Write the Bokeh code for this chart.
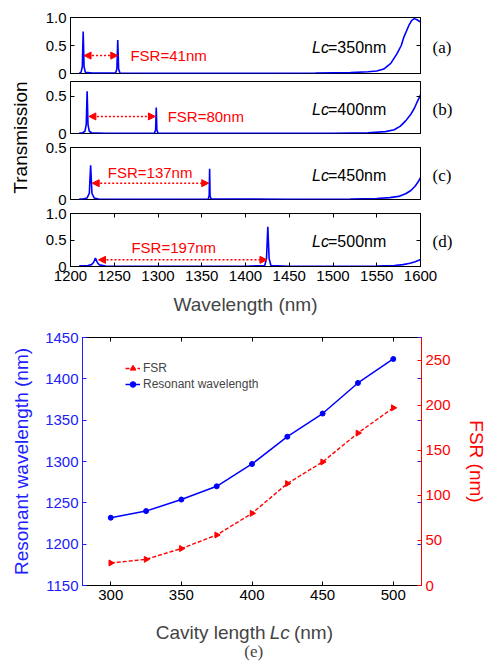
import numpy as np
from bokeh.plotting import figure
from bokeh.layouts import column, row
from bokeh.models import Range1d, LinearAxis, FixedTicker, Label, Arrow, NormalHead, Legend, LegendItem
from bokeh.embed import file_html
from bokeh.resources import INLINE

FONT = "Liberation Sans"
SERIF = "Liberation Serif"
BLUE = "#0000ff"
AXBLUE = "#2020ff"
RED = "#ff0000"

# ---------------- panels (a)-(d): transmission spectra ----------------
wl_a = [1210, 1212, 1213.5, 1214.5, 1215.5, 1217, 1225, 1251.5, 1253, 1254, 1255, 1256.5, 1300, 1400,
        1480, 1520, 1540, 1550, 1558, 1566, 1573, 1578, 1581, 1584, 1587, 1590, 1593, 1596, 1600]
t_a = [0.005, 0.02, 0.12, 0.75, 0.12, 0.02, 0.006, 0.01, 0.08, 0.6, 0.08, 0.01, 0.005, 0.005,
       0.008, 0.015, 0.03, 0.045, 0.08, 0.18, 0.35, 0.5, 0.65, 0.76, 0.87, 0.95, 0.98, 0.96, 0.92]

wl_b = [1210, 1214, 1216.5, 1218, 1219, 1220, 1221.5, 1224, 1240, 1296, 1297.3, 1298, 1298.7, 1300,
        1400, 1500, 1540, 1560, 1570, 1577, 1583, 1589, 1593, 1596, 1600]
t_b = [0.005, 0.01, 0.03, 0.12, 0.57, 0.12, 0.03, 0.01, 0.004, 0.005, 0.05, 0.35, 0.05, 0.005,
       0.003, 0.004, 0.01, 0.025, 0.05, 0.1, 0.17, 0.26, 0.34, 0.42, 0.52]

wl_c = [1210, 1215, 1219, 1221.5, 1223, 1224.5, 1227, 1232, 1300, 1357.5, 1358.5, 1359, 1359.5, 1360.5,
        1450, 1520, 1550, 1565, 1575, 1583, 1589, 1594, 1597, 1600]
t_c = [0.004, 0.006, 0.015, 0.06, 0.33, 0.06, 0.015, 0.005, 0.003, 0.005, 0.04, 0.295, 0.04, 0.005,
       0.003, 0.005, 0.01, 0.018, 0.03, 0.055, 0.087, 0.13, 0.165, 0.21]

wl_d = [1210, 1220, 1224, 1226.5, 1228.5, 1230.5, 1233, 1240, 1300, 1400, 1422, 1424, 1425.5, 1427,
        1429, 1450, 1520, 1550, 1570, 1580, 1588, 1594, 1600]
t_d = [0.015, 0.02, 0.035, 0.08, 0.16, 0.08, 0.03, 0.01, 0.005, 0.006, 0.02, 0.15, 0.75, 0.15,
       0.02, 0.006, 0.006, 0.01, 0.02, 0.035, 0.06, 0.09, 0.13]

panel_wl = [wl_a, wl_b, wl_c, wl_d]
panel_t = [t_a, t_b, t_c, t_d]
panel_ids = ["(a)", "(b)", "(c)", "(d)"]
lc_text = ["=350nm", "=400nm", "=450nm", "=500nm"]
lc_y = [0.47, 0.323, 0.23, 0.47]
y_max = [1.0, 0.7, 0.5, 1.0]
y_ticks = [[0, 0.5, 1.0], [0, 0.5], [0, 0.5], [0, 0.5, 1.0]]
wl_ticks = [1200, 1250, 1300, 1350, 1400, 1450, 1500, 1550, 1600]

fsr_labels = ["FSR=41nm", "FSR=80nm", "FSR=137nm", "FSR=197nm"]
arrow_start = [1215.5, 1221, 1224.8, 1232]
arrow_end = [1254, 1297, 1358, 1424.5]
arrow_y = [0.32, 0.23, 0.157, 0.126]
fsr_text_x = [1268.5, 1311, 1291, 1318]
fsr_text_y = [0.32, 0.23, 0.262, 0.364]
fsr_text_align = ["left", "left", "center", "center"]

# ---------------- panel (e) ----------------
cavity_length = [300, 325, 350, 375, 400, 425, 450, 475, 500]
resonant_wl = [1232, 1240, 1254, 1270, 1297, 1330, 1358, 1395, 1424]
fsr_nm = [25, 29, 41, 56, 80, 113, 137, 169, 197]
lc_ticks = [300, 350, 400, 450, 500]
res_ticks = [1150, 1200, 1250, 1300, 1350, 1400, 1450]
fsr_ticks = [0, 50, 100, 150, 200, 250]


def blank_axis(ticks, color="black", **kw):
    ax = LinearAxis(ticker=FixedTicker(ticks=ticks),
                    major_label_overrides={t: "" for t in ticks},
                    major_label_text_font_size="0px", major_label_standoff=0,
                    major_tick_in=4, major_tick_out=0, minor_tick_in=0, minor_tick_out=0,
                    axis_line_color=color, major_tick_line_color=color, **kw)
    return ax


def style_axis(ax, color="black"):
    ax.major_tick_in = 4
    ax.major_tick_out = 0
    ax.minor_tick_in = 0
    ax.minor_tick_out = 0
    ax.axis_line_color = color
    ax.major_tick_line_color = color
    ax.major_label_text_color = color
    ax.major_label_text_font = FONT
    ax.major_label_text_font_size = "15px"
    ax.major_label_standoff = 4


def text_canvas(w, h):
    # plain drawing area whose data units are pixels (y measured upward from the bottom)
    f = figure(width=w, height=h, x_range=Range1d(0, w), y_range=Range1d(0, h),
               min_border=0, toolbar_location=None, output_backend="svg")
    f.axis.visible = False
    f.grid.visible = False
    f.outline_line_color = None
    return f


heights = [80, 60, 66, 115]
tops = [17, 1, 7, 7]
bottoms = [7, 7, 7, 55]
PANEL_W = 449

panels = []
for i in range(4):
    p = figure(width=PANEL_W, height=heights[i], x_range=Range1d(1200, 1600), y_range=Range1d(0, y_max[i]),
               min_border_left=30, min_border_right=69, min_border_top=tops[i], min_border_bottom=bottoms[i],
               toolbar_location=None, output_backend="svg")
    p.grid.visible = False
    p.outline_line_color = "black"
    p.outline_line_alpha = 1.0
    p.line(panel_wl[i], panel_t[i], line_color=BLUE, line_width=1.6)

    yax = p.yaxis[0]
    yax.ticker = FixedTicker(ticks=y_ticks[i])
    yax.major_label_overrides = {0: "0", 0.5: "0.5", 1: "1.0"}
    style_axis(yax)
    p.add_layout(blank_axis(y_ticks[i]), "right")
    # panel identifier "(a)".."(d)" placed beside the frame as a right-side label
    id_axis = LinearAxis(ticker=FixedTicker(ticks=[lc_y[i]]),
                         major_label_overrides={lc_y[i]: panel_ids[i]},
                         major_tick_in=0, major_tick_out=0, minor_tick_in=0, minor_tick_out=0,
                         axis_line_color=None, major_label_standoff=12,
                         major_label_text_font=SERIF, major_label_text_font_size="17px",
                         major_label_text_color="black")
    p.add_layout(id_axis, "right")

    if i == 3:
        xax = p.xaxis[0]
        xax.ticker = FixedTicker(ticks=wl_ticks)
        style_axis(xax)
        xax.axis_label = "Wavelength (nm)"
        xax.axis_label_text_font = FONT
        xax.axis_label_text_font_size = "19px"
        xax.axis_label_text_font_style = "normal"
        xax.axis_label_standoff = 10
        p.add_layout(blank_axis(wl_ticks), "above")
    else:
        p.xaxis.visible = False

    p.add_layout(Arrow(start=NormalHead(size=7, fill_color=RED, line_color=RED),
                       end=NormalHead(size=7, fill_color=RED, line_color=RED),
                       x_start=arrow_start[i], y_start=arrow_y[i], x_end=arrow_end[i], y_end=arrow_y[i],
                       line_color=RED, line_width=1.5, line_dash="2 2"))
    p.add_layout(Label(x=fsr_text_x[i], y=fsr_text_y[i], text=fsr_labels[i], text_color=RED,
                       text_font=FONT, text_font_size="15px", text_baseline="middle",
                       text_align=fsr_text_align[i]))
    p.add_layout(Label(x=1476, y=lc_y[i], text="Lc", text_color="black",
                       text_font=FONT, text_font_size="16px", text_font_style="italic",
                       text_baseline="middle", text_align="left"))
    p.add_layout(Label(x=1476, x_offset=16, y=lc_y[i], text=lc_text[i], text_color="black",
                       text_font=FONT, text_font_size="16px", text_baseline="middle", text_align="left"))
    panels.append(p)

TOP_H = sum(heights)

# shared "Transmission" axis title
lab = text_canvas(40, TOP_H)
lab.add_layout(Label(x=20, y=TOP_H - 137, text="Transmission", angle=np.pi / 2,
                     text_font=FONT, text_font_size="19px", text_color="black",
                     text_align="center", text_baseline="middle"))

# ---------------- panel (e) ----------------
fe = figure(width=489, height=291, x_range=Range1d(280, 520), y_range=Range1d(1150, 1450),
            min_border_left=82, min_border_right=65, min_border_top=16, min_border_bottom=27,
            toolbar_location=None, output_backend="svg")
fe.extra_y_ranges = {"fsr": Range1d(0, 275)}
fe.grid.visible = False
fe.outline_line_color = "black"

xax = fe.xaxis[0]
xax.ticker = FixedTicker(ticks=lc_ticks)
style_axis(xax)
fe.add_layout(blank_axis(lc_ticks), "above")

yax = fe.yaxis[0]
yax.ticker = FixedTicker(ticks=res_ticks)
style_axis(yax, AXBLUE)
yax.axis_label = "Resonant wavelength (nm)"
yax.axis_label_text_color = AXBLUE
yax.axis_label_text_font = FONT
yax.axis_label_text_font_size = "19px"
yax.axis_label_text_font_style = "normal"
yax.axis_label_standoff = 10

fe.add_layout(blank_axis(res_ticks, AXBLUE), "right")
rax = LinearAxis(y_range_name="fsr", ticker=FixedTicker(ticks=fsr_ticks))
style_axis(rax, RED)
rax.axis_label = "FSR (nm)"
rax.axis_label_text_color = RED
rax.axis_label_text_font = FONT
rax.axis_label_text_font_size = "19px"
rax.axis_label_text_font_style = "normal"
rax.axis_label_standoff = 12
fe.add_layout(rax, "right")

l_fsr = fe.line(cavity_length, fsr_nm, y_range_name="fsr", line_color=RED, line_width=1.4, line_dash="4 2")
s_fsr = fe.scatter(cavity_length, fsr_nm, y_range_name="fsr", marker="triangle", angle=-np.pi / 2,
                   size=6, fill_color=RED, line_color=RED)
l_res = fe.line(cavity_length, resonant_wl, line_color=BLUE, line_width=1.5)
s_res = fe.scatter(cavity_length, resonant_wl, marker="circle", size=5, fill_color=BLUE, line_color=BLUE)

legend = Legend(items=[LegendItem(label="FSR", renderers=[l_fsr, s_fsr]),
                       LegendItem(label="Resonant wavelength", renderers=[l_res, s_res])],
                location=(43, 194), padding=0, margin=0, spacing=2, glyph_width=15, glyph_height=14,
                label_height=14, label_standoff=3, label_text_font=FONT, label_text_font_size="12px",
                border_line_alpha=0, background_fill_alpha=0)
fe.add_layout(legend)

# x-axis title with italic Lc, and the "(e)" caption
CAP_H = 49
cap = text_canvas(489, CAP_H)
cap.add_layout(Label(x=264, y=CAP_H - 20, text="Cavity length", text_font=FONT, text_font_size="19px",
                     text_baseline="middle", text_align="right"))
cap.add_layout(Label(x=270, y=CAP_H - 20, text="Lc", text_font=FONT, text_font_size="19px",
                     text_font_style="italic", text_baseline="middle", text_align="left"))
cap.add_layout(Label(x=305, y=CAP_H - 20, text="(nm)", text_font=FONT, text_font_size="19px",
                     text_baseline="middle", text_align="left"))
cap.add_layout(Label(x=247, y=CAP_H - 39, text="(e)", text_font=SERIF, text_font_size="17px",
                     text_baseline="middle", text_align="center"))

layout = column(row(lab, column(*panels, spacing=0), spacing=0), fe, cap, spacing=0)
open("out.html", "w").write(file_html(layout, INLINE))
